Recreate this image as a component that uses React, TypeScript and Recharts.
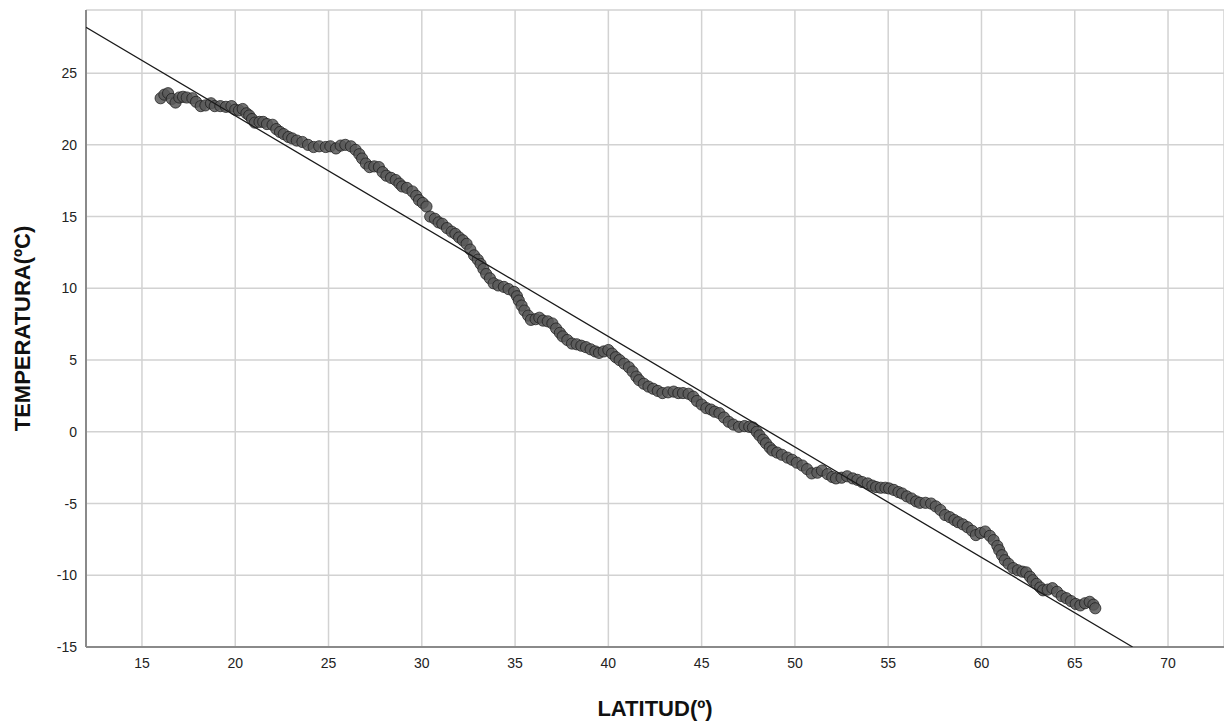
import { CartesianGrid, Label, Scatter, ScatterChart, XAxis, YAxis } from 'recharts'

// latitude (º) of each station
const latitudes = [
  16.0, 16.2, 16.4, 16.6, 16.8, 17.0, 17.2, 17.4, 17.7, 17.9,
  18.15, 18.4, 18.7, 18.9, 19.2, 19.5, 19.8, 20.0, 20.2, 20.4,
  20.6, 20.75, 20.9, 21.05, 21.3, 21.5, 21.7, 22.0, 22.2, 22.4,
  22.6, 22.85, 23.05, 23.3, 23.6, 23.9, 24.2, 24.5, 24.85, 25.1,
  25.4, 25.65, 25.9, 26.2, 26.45, 26.65, 26.8, 27.0, 27.2, 27.45,
  27.7, 27.9, 28.1, 28.35, 28.6, 28.8, 28.95, 29.2, 29.5, 29.7,
  29.85, 30.05, 30.25, 30.45, 30.7, 30.9, 31.1, 31.35, 31.6, 31.8,
  32.0, 32.2, 32.4, 32.6, 32.8, 33.0, 33.15, 33.3, 33.45, 33.65,
  33.85, 34.1, 34.4, 34.65, 34.95, 35.1, 35.2, 35.35, 35.5, 35.7,
  35.85, 36.1, 36.3, 36.5, 36.75, 37.0, 37.2, 37.4, 37.55, 37.8,
  38.05, 38.3, 38.55, 38.8, 39.05, 39.3, 39.5, 39.75, 40.0, 40.2,
  40.4, 40.6, 40.85, 41.1, 41.3, 41.5, 41.65, 41.9, 42.15, 42.4,
  42.65, 42.9, 43.2, 43.5, 43.75, 44.0, 44.3, 44.55, 44.75, 45.0,
  45.25, 45.5, 45.7, 45.95, 46.2, 46.45, 46.7, 47.0, 47.3, 47.55,
  47.75, 47.95, 48.1, 48.3, 48.45, 48.65, 48.8, 49.05, 49.3, 49.6,
  49.85, 50.1, 50.4, 50.65, 50.9, 51.2, 51.45, 51.75, 52.0, 52.2,
  52.5, 52.8, 53.1, 53.35, 53.6, 53.9, 54.15, 54.35, 54.6, 54.85,
  55.05, 55.3, 55.55, 55.75, 56.0, 56.25, 56.5, 56.7, 57.0, 57.3,
  57.55, 57.8, 58.05, 58.3, 58.55, 58.75, 59.0, 59.25, 59.5, 59.7,
  59.95, 60.2, 60.45, 60.65, 60.85, 60.95, 61.1, 61.25, 61.45, 61.7,
  61.95, 62.2, 62.4, 62.6, 62.75, 62.95, 63.15, 63.3, 63.55, 63.8,
  64.05, 64.3, 64.55, 64.8, 65.05, 65.3, 65.55, 65.8, 66.0, 66.1,
]

// temperature (ºC) at each of the latitudes above
const temperatures = [
  23.25, 23.5, 23.6, 23.2, 22.95, 23.3, 23.35, 23.3, 23.25, 23.0,
  22.7, 22.75, 22.9, 22.7, 22.7, 22.65, 22.7, 22.45, 22.4, 22.5,
  22.2, 22.05, 21.8, 21.55, 21.6, 21.6, 21.45, 21.4, 21.1, 20.9,
  20.75, 20.55, 20.45, 20.3, 20.2, 20.0, 19.85, 19.9, 19.85, 19.9,
  19.75, 19.95, 20.0, 19.9, 19.65, 19.35, 19.05, 18.7, 18.45, 18.5,
  18.45, 18.1, 17.85, 17.7, 17.55, 17.3, 17.1, 17.0, 16.75, 16.45,
  16.15, 15.95, 15.7, 15.0, 14.85, 14.6, 14.5, 14.2, 13.95, 13.8,
  13.55, 13.35, 13.1, 12.7, 12.3, 12.0, 11.7, 11.35, 11.0, 10.7,
  10.35, 10.2, 10.1, 9.95, 9.75, 9.45, 9.15, 8.8, 8.45, 8.1,
  7.8, 7.85, 7.95, 7.75, 7.7, 7.55, 7.2, 6.9, 6.65, 6.4,
  6.15, 6.1, 6.0, 5.9, 5.75, 5.6, 5.5, 5.6, 5.7, 5.45,
  5.2, 5.0, 4.75, 4.5, 4.2, 3.85, 3.6, 3.35, 3.15, 3.0,
  2.85, 2.7, 2.75, 2.8, 2.7, 2.7, 2.65, 2.45, 2.15, 1.9,
  1.65, 1.55, 1.4, 1.3, 1.0, 0.7, 0.5, 0.35, 0.4, 0.35,
  0.3, 0.0, -0.25, -0.55, -0.8, -1.1, -1.3, -1.45, -1.6, -1.8,
  -1.95, -2.15, -2.35, -2.6, -2.9, -2.85, -2.7, -2.95, -3.15, -3.25,
  -3.2, -3.1, -3.25, -3.35, -3.5, -3.6, -3.75, -3.85, -3.9, -3.9,
  -3.95, -4.05, -4.2, -4.3, -4.5, -4.65, -4.85, -4.95, -4.95, -5.0,
  -5.2, -5.45, -5.8, -5.95, -6.15, -6.3, -6.45, -6.65, -6.9, -7.2,
  -7.05, -6.95, -7.25, -7.55, -7.95, -8.25, -8.6, -8.95, -9.2, -9.5,
  -9.65, -9.75, -9.8, -10.1, -10.35, -10.6, -10.85, -11.05, -11.0, -10.9,
  -11.15, -11.45, -11.6, -11.8, -12.0, -12.1, -11.95, -11.85, -12.05, -12.3,
]

// linear fit drawn over the points
const FIT_INTERCEPT = 37.44
const FIT_SLOPE = -0.77
const fitLatitudes = [12, 68.1]

const xTicks = [15, 20, 25, 30, 35, 40, 45, 50, 55, 60, 65, 70]
const yTicks = [-15, -10, -5, 0, 5, 10, 15, 20, 25]

const points = latitudes.map((lat, i) => ({ lat, temp: temperatures[i] }))
const fitPoints = fitLatitudes.map((lat) => ({ lat, temp: FIT_INTERCEPT + FIT_SLOPE * lat }))

const FONT = 'Arial, "Liberation Sans", sans-serif'

function Marker(props: any) {
  const { cx, cy } = props
  if (cx == null || cy == null) return <g />
  return (
    <circle
      cx={cx}
      cy={cy}
      r={5.6}
      fill="#585858"
      fillOpacity={0.85}
      stroke="#1c1c1c"
      strokeOpacity={0.75}
      strokeWidth={1}
    />
  )
}

function YTitle(props: any) {
  const vb = props.viewBox || {}
  const cx = 22
  const cy = (vb.y ?? 0) + (vb.height ?? 0) / 2
  return (
    <text
      x={cx}
      y={cy}
      transform={`rotate(-90 ${cx} ${cy})`}
      textAnchor="middle"
      dominantBaseline="central"
      fontFamily={FONT}
      fontWeight="bold"
      fontSize={22}
      fill="#111"
    >
      TEMPERATURA(ºC)
    </text>
  )
}

function XTitle(props: any) {
  const vb = props.viewBox || {}
  const cx = (vb.x ?? 0) + (vb.width ?? 0) / 2
  const cy = (vb.y ?? 0) + 61
  return (
    <text
      x={cx}
      y={cy}
      textAnchor="middle"
      dominantBaseline="central"
      fontFamily={FONT}
      fontWeight="bold"
      fontSize={22}
      fill="#111"
    >
      LATITUD(º)
    </text>
  )
}

export default function App() {
  const tickStyle = { fontSize: 14, fill: '#222', fontFamily: FONT }
  return (
    <div style={{ position: 'absolute', left: 0, top: 0, width: 1224, height: 722, background: '#fff' }}>
      <ScatterChart width={1224} height={722} margin={{ top: 10, right: 0, bottom: 0, left: 0 }}>
        <CartesianGrid stroke="#d2d2d2" strokeWidth={1.5} />
        <XAxis
          type="number"
          dataKey="lat"
          domain={[12, 73]}
          ticks={xTicks}
          allowDataOverflow
          height={75}
          tickLine={false}
          tickSize={6}
          tickMargin={5}
          tick={tickStyle}
          axisLine={{ stroke: '#8a8a8a', strokeWidth: 2 }}
        >
          <Label content={<XTitle />} />
        </XAxis>
        <YAxis
          type="number"
          dataKey="temp"
          domain={[-15, 29.4]}
          ticks={yTicks}
          allowDataOverflow
          width={86}
          tickLine={false}
          tickSize={6}
          tickMargin={3}
          tick={tickStyle}
          axisLine={{ stroke: '#8a8a8a', strokeWidth: 2 }}
        >
          <Label content={<YTitle />} />
        </YAxis>
        <Scatter data={points} shape={<Marker />} isAnimationActive={false} />
        <Scatter
          data={fitPoints}
          line={{ stroke: '#1a1a1a', strokeWidth: 1.3 }}
          shape={() => <g />}
          isAnimationActive={false}
        />
      </ScatterChart>
    </div>
  )
}
